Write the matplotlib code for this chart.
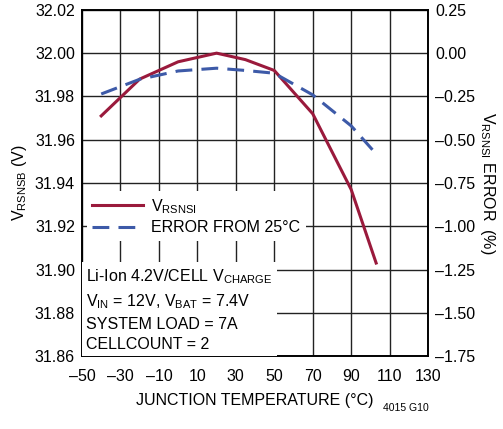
import matplotlib
matplotlib.use('Agg')
import matplotlib.pyplot as plt

plt.rcParams['font.family'] = ['Liberation Sans Narrow', 'Liberation Sans', 'DejaVu Sans']
plt.rcParams['mathtext.fontset'] = 'custom'
plt.rcParams['mathtext.rm'] = 'Liberation Sans'

# data
temp = [-40, -20, 0, 20, 35, 50, 70, 90, 103]
v_rsnsi = [31.971, 31.988, 31.996, 32.000, 31.997, 31.992, 31.972, 31.937, 31.903]
error_pct = [-0.236, -0.151, -0.103, -0.087, -0.100, -0.116, -0.241, -0.420, -0.582]

x_ticks = [-50, -30, -10, 10, 30, 50, 70, 90, 110, 130]
y_left_ticks = [31.86, 31.88, 31.90, 31.92, 31.94, 31.96, 31.98, 32.00, 32.02]
y_right_ticks = [-1.75, -1.50, -1.25, -1.00, -0.75, -0.50, -0.25, 0.00, 0.25]

red = '#9a1a3c'
blue = '#3d5aa8'
fs = 11.5

fig = plt.figure(figsize=(5.03, 4.29), dpi=100)
ax = fig.add_axes([0.163, 0.170, 0.688, 0.807])
ax2 = ax.twinx()

ax.set_xlim(-50, 130)
ax.set_ylim(31.86, 32.02)
ax2.set_ylim(-1.75, 0.25)

ax.set_xticks(x_ticks)
ax.set_xticklabels([str(t).replace('-', '\u2013') for t in x_ticks], fontsize=fs)
ax.set_yticks(y_left_ticks)
ax.set_yticklabels(['%.2f' % v for v in y_left_ticks], fontsize=fs)
ax2.set_yticks(y_right_ticks)
ax2.set_yticklabels(['%.2f' % v if v >= 0 else '\u2013%.2f' % -v for v in y_right_ticks], fontsize=fs)

ax.grid(True, color='#222222', linewidth=1.0)
ax.set_axisbelow(True)
ax.tick_params(axis='x', length=0, pad=9)
ax.tick_params(axis='y', length=0, pad=5)
ax2.tick_params(length=0, pad=5)
for a in (ax, ax2):
    for s in a.spines.values():
        s.set_linewidth(1.2)

line_v, = ax.plot(temp, v_rsnsi, color=red, linewidth=2.2, zorder=3)
ax2.plot(temp, error_pct, color=blue, linewidth=2.2, dashes=(5.5, 3), zorder=3)
line_e, = ax.plot([], [], color=blue, linewidth=2.2, dashes=(5.5, 3))

ax2.set_zorder(ax.get_zorder() + 1)
ax2.patch.set_visible(False)

ax2.legend([line_v, line_e], [r'$\mathregular{V_{RSNSI}}$', 'ERROR FROM 25°C'],
           loc='upper left', bbox_to_anchor=(0.0, 0.49), fontsize=fs,
           frameon=True, fancybox=False, edgecolor='none', facecolor='white',
           framealpha=1, handlelength=3.2, borderpad=0.35, labelspacing=0.3,
           handletextpad=0.5, borderaxespad=0.3)

ax2.text(0.012, 0.012,
         'Li-Ion 4.2V/CELL $\\mathregular{V_{CHARGE}}$\n'
         '$\\mathregular{V_{IN}}$ = 12V, $\\mathregular{V_{BAT}}$ = 7.4V\n'
         'SYSTEM LOAD = 7A\nCELLCOUNT = 2',
         transform=ax2.transAxes, fontsize=fs, va='bottom', ha='left', linespacing=1.45,
         bbox=dict(facecolor='white', edgecolor='none', pad=3))

ax.set_xlabel('JUNCTION TEMPERATURE (°C)', fontsize=fs, labelpad=7)
ax.set_ylabel(r'$\mathregular{V_{RSNSB}}$ (V)', fontsize=fs, labelpad=4)
ax2.set_ylabel(r'$\mathregular{V_{RSNSI}}$ ERROR  (%)', fontsize=fs, rotation=-90, labelpad=16)

fig.text(0.852, 0.042, '4015 G10', fontsize=7.5, ha='right')

fig.savefig('out.png', dpi=100)
